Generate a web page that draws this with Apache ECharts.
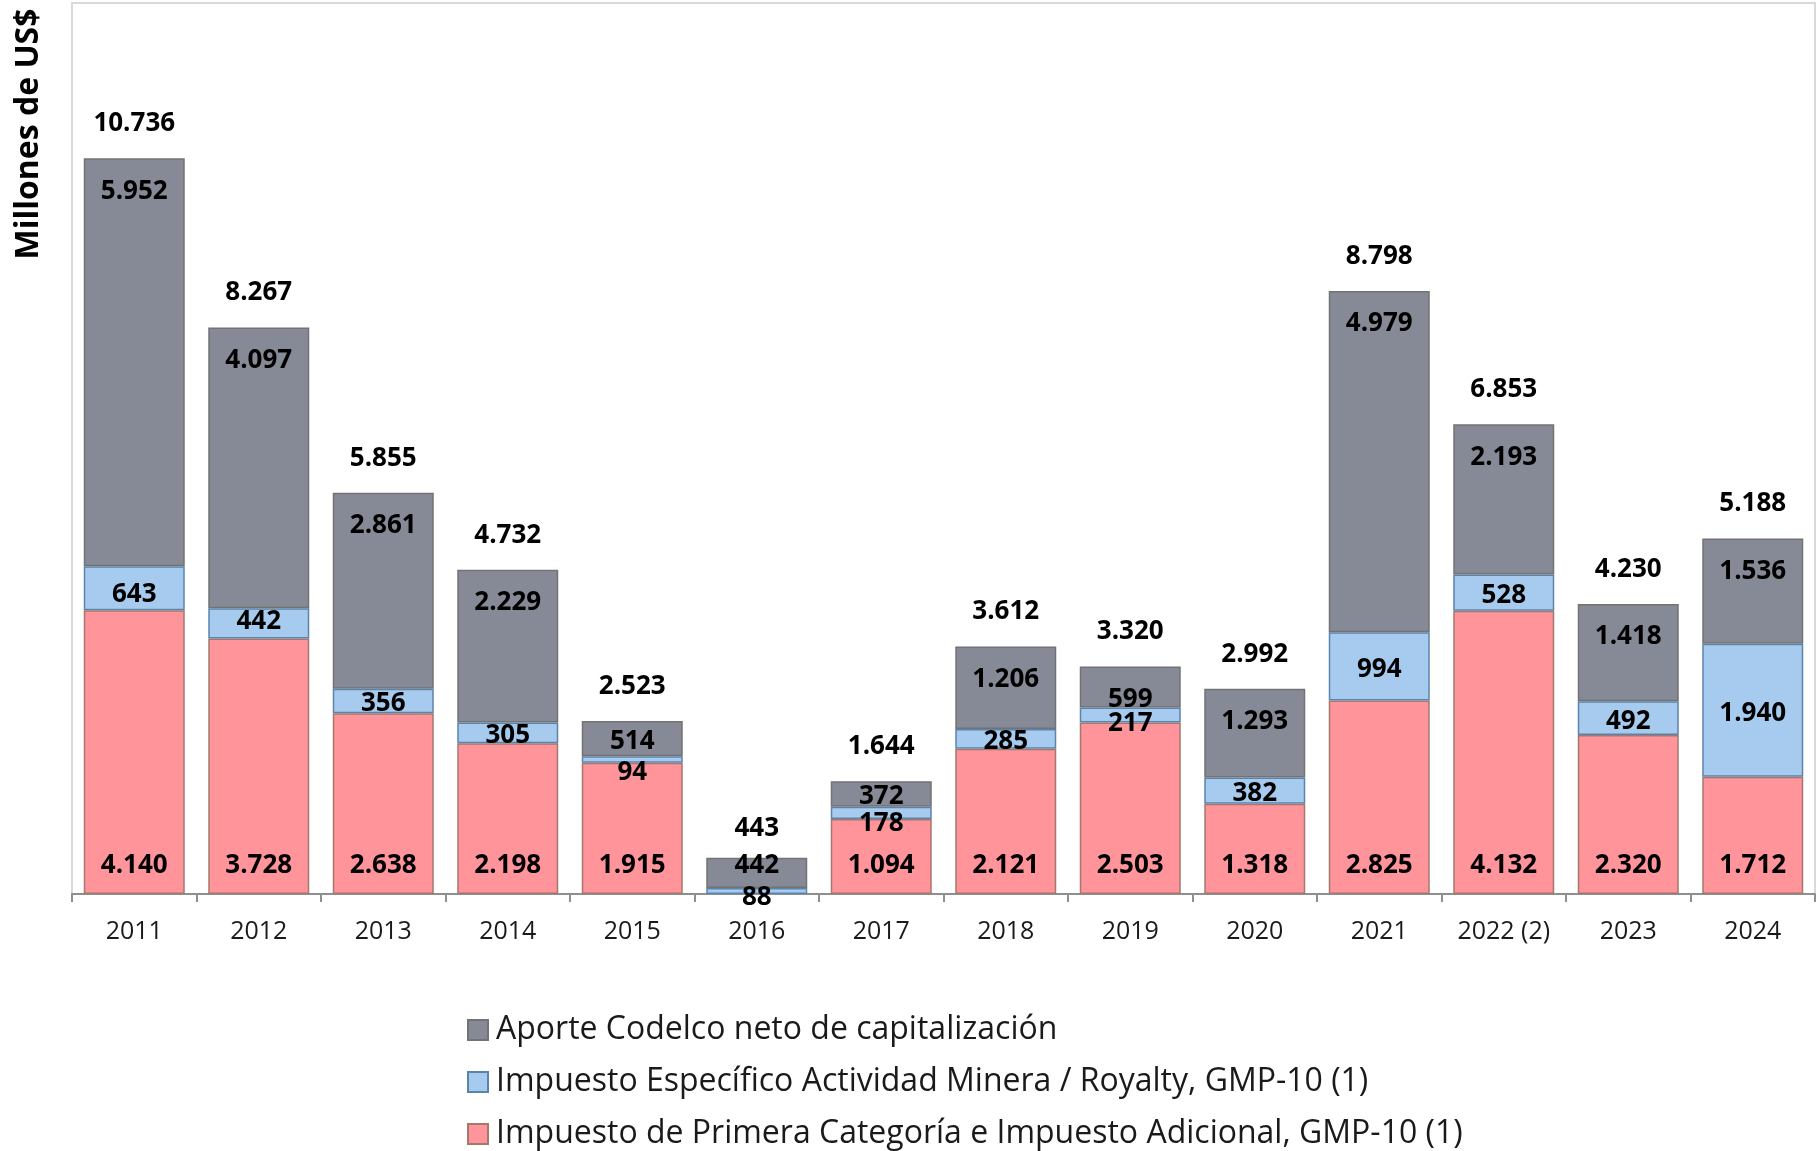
<!DOCTYPE html>
<html>
<head>
<meta charset="utf-8">
<script src="https://cdn.jsdelivr.net/npm/echarts@6/dist/echarts.min.js"></script>
<style>
  html, body { margin: 0; padding: 0; background: #fff; }
  #chart { width: 1818px; height: 1151px; }
</style>
</head>
<body>
<div id="chart"></div>
<script>
// ---- Data ----
const categories = ['2011','2012','2013','2014','2015','2016','2017','2018','2019','2020','2021','2022 (2)','2023','2024'];
const impuestoPrimera = [4140, 3728, 2638, 2198, 1915, -87, 1094, 2121, 2503, 1318, 2825, 4132, 2320, 1712];
const impuestoEspecifico = [643, 442, 356, 305, 94, 88, 178, 285, 217, 382, 994, 528, 492, 1940];
const aporteCodelco = [5952, 4097, 2861, 2229, 514, 442, 372, 1206, 599, 1293, 4979, 2193, 1418, 1536];
const totals = [10736, 8267, 5855, 4732, 2523, 443, 1644, 3612, 3320, 2992, 8798, 6853, 4230, 5188];

const seriesNames = [
  'Aporte Codelco neto de capitalización',
  'Impuesto Específico Actividad Minera / Royalty, GMP-10 (1)',
  'Impuesto de Primera Categoría e Impuesto Adicional, GMP-10 (1)'
];

// ---- Label placement tweaks (style only) ----
const grayLabelTweaks = { 4: { distance: 8 }, 5: { distance: -5 }, 6: { distance: 2 } };
const blueLabelTweaks = { 0: { offset: [0, 6] }, 1: { offset: [0, -2] }, 4: { offset: [0, 13] }, 5: { offset: [0, 7] }, 6: { offset: [0, 11] }, 8: { offset: [0, 9] } };
const pinkLabelTweaks = { 5: { show: false } };
const totalLabelTweaks = { 5: { offset: [0, 5] } };

function fmt(v) {
  const s = String(Math.abs(Math.round(v)));
  return s.replace(/\B(?=(\d{3})+(?!\d))/g, '.');
}

function withTweaks(arr, tweaks) {
  return arr.map((v, i) => tweaks[i] ? { value: v, label: tweaks[i] } : v);
}

// positive stack height for placing total labels
const stackTops = categories.map((c, i) =>
  [impuestoPrimera[i], impuestoEspecifico[i], aporteCodelco[i]].filter(v => v > 0).reduce((a, b) => a + b, 0)
);

const FONT = '"Open Sans", "Noto Sans", sans-serif';
const labelBase = { show: true, color: '#000', opacity: 1, fontFamily: FONT, fontWeight: 'bold', fontSize: 26, textBorderWidth: 0, formatter: p => fmt(p.value) };

const chart = echarts.init(document.getElementById('chart'), null, { renderer: 'canvas' });
chart.setOption({
  animation: false,
  backgroundColor: '#fff',
  grid: { left: 72, right: 3, top: 3, bottom: 257, show: true, borderColor: '#d9d9d9', borderWidth: 2, backgroundColor: 'transparent' },
  xAxis: {
    type: 'category',
    data: categories,
    axisLine: { show: true, lineStyle: { color: '#8f8f8f', width: 2 } },
    axisTick: { show: true, length: 8, lineStyle: { color: '#8f8f8f', width: 2 } },
    axisLabel: { color: '#1a1a1a', fontFamily: FONT, fontSize: 25, margin: 25 },
    splitLine: { show: false }
  },
  yAxis: {
    type: 'value',
    min: 0, max: 13000, interval: 1000,
    axisLine: { show: false }, axisTick: { show: false }, axisLabel: { show: false }, splitLine: { show: false }
  },
  legend: {
    orient: 'vertical',
    left: 467, top: 1014, height: 200, padding: 0,
    itemWidth: 20, itemHeight: 20, itemGap: 20,
    icon: 'rect',
    data: seriesNames,
    textStyle: { fontFamily: FONT, fontSize: 32, color: '#1a1a1a', lineHeight: 32, padding: [0, 0, 0, 3] }
  },
  graphic: [{
    type: 'text', x: 29, y: 134, rotation: Math.PI / 2,
    style: { text: 'Millones de US$', fontFamily: FONT, fontWeight: 'bold', fontSize: 32, fill: '#000', textAlign: 'center', textVerticalAlign: 'middle' }
  }],
  series: [
    {
      name: seriesNames[2], type: 'bar', stack: 'total', barWidth: 101,
      data: withTweaks(impuestoPrimera, pinkLabelTweaks),
      itemStyle: { color: '#ff959b', borderColor: '#a5786e', borderWidth: 1.5 },
      label: Object.assign({}, labelBase, { position: 'insideBottom', distance: 15 })
    },
    {
      name: seriesNames[1], type: 'bar', stack: 'total', barWidth: 101,
      data: withTweaks(impuestoEspecifico, blueLabelTweaks),
      itemStyle: { color: '#a6cbee', borderColor: '#5b84ad', borderWidth: 1.5 },
      label: Object.assign({}, labelBase, { position: 'inside', offset: [0, 3] })
    },
    {
      name: seriesNames[0], type: 'bar', stack: 'total', barWidth: 101,
      data: withTweaks(aporteCodelco, grayLabelTweaks),
      itemStyle: { color: '#868a96', borderColor: '#737373', borderWidth: 1.5 },
      label: Object.assign({}, labelBase, { position: 'insideTop', distance: 20 })
    },
    {
      name: 'Total', type: 'scatter', data: withTweaks(stackTops, totalLabelTweaks), symbolSize: 1, z: 5,
      itemStyle: { color: 'rgba(0,0,0,0)', opacity: 1 },
      label: Object.assign({}, labelBase, { position: 'top', distance: 21, formatter: p => fmt(totals[p.dataIndex]) }),
      silent: true
    }
  ]
});
</script>
</body>
</html>
